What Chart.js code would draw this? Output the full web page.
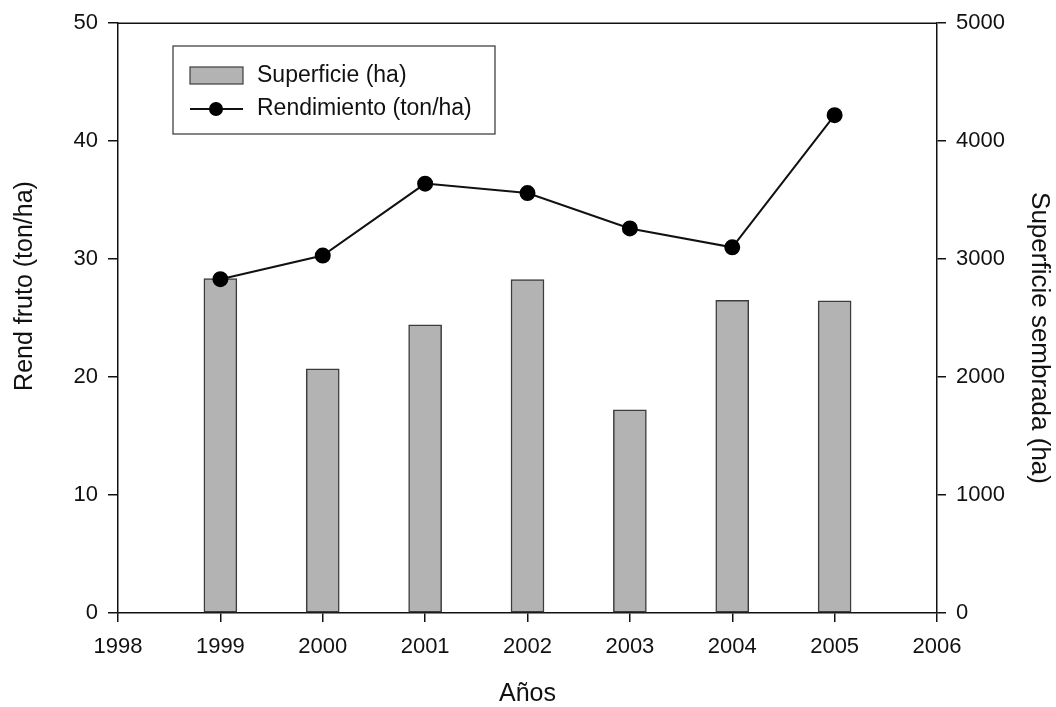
<!DOCTYPE html>
<html>
<head>
<meta charset="utf-8">
<script src="https://cdn.jsdelivr.net/npm/chart.js@4"></script>
<style>
  body { margin: 0; background: #fff; }
  #wrap { width: 1056px; height: 707px; }
</style>
</head>
<body>
<div id="wrap"><canvas id="myChart"></canvas></div>
<script>
// Datos
const years = [1999, 2000, 2001, 2002, 2003, 2004, 2005];
const superficie = [2835, 2069, 2442, 2827, 1723, 2651, 2646];
const rendimiento = [28.3, 30.3, 36.4, 35.6, 32.6, 31.0, 42.2];

const FONT = "'Liberation Sans', Arial, sans-serif";

// Leyenda dentro del area del grafico, con marco
const legendBox = {
    id: 'legendBox',
    afterDatasetsDraw(chart) {
        const c = chart.ctx;
        c.save();
        c.fillStyle = '#fff';
        c.strokeStyle = '#333';
        c.lineWidth = 1.2;
        c.fillRect(173, 46, 322, 88);
        c.strokeRect(173, 46, 322, 88);

        // barra
        c.fillStyle = '#b3b3b3';
        c.strokeStyle = '#3c3c3c';
        c.fillRect(190, 67, 53, 17);
        c.strokeRect(190, 67, 53, 17);

        // linea con punto
        c.strokeStyle = '#111';
        c.lineWidth = 2;
        c.beginPath();
        c.moveTo(190, 109);
        c.lineTo(243, 109);
        c.stroke();
        c.fillStyle = '#000';
        c.beginPath();
        c.arc(216, 109, 7, 0, Math.PI * 2);
        c.fill();

        c.font = '23px ' + FONT;
        c.fillStyle = '#111';
        c.textBaseline = 'middle';
        c.fillText('Superficie (ha)', 257, 76);
        c.fillText('Rendimiento (ton/ha)', 257, 109);
        c.restore();
    }
};

// Linea superior del marco y titulos de los ejes Y (no centrados en el original)
const frameAndTitles = {
    id: 'frameAndTitles',
    afterDraw(chart) {
        const a = chart.chartArea;
        const c = chart.ctx;
        c.save();
        c.strokeStyle = '#111';
        c.lineWidth = 1.5;
        c.beginPath();
        c.moveTo(a.left, a.top);
        c.lineTo(a.right, a.top);
        c.stroke();

        c.fillStyle = '#111';
        c.textAlign = 'center';
        c.textBaseline = 'middle';

        c.font = '25px ' + FONT;
        c.save();
        c.translate(25, 286);
        c.rotate(-Math.PI / 2);
        c.fillText('Rend fruto (ton/ha)', 0, 0);
        c.restore();

        c.font = '26px ' + FONT;
        c.save();
        c.translate(1039, 338);
        c.rotate(Math.PI / 2);
        c.fillText('Superficie sembrada (ha)', 0, 0);
        c.restore();

        c.restore();
    }
};

const tickFont = { family: FONT, size: 22 };
const titleFont = { family: FONT, size: 25, lineHeight: 1.2 };

let ctx = document.getElementById('myChart');

let myChart = new Chart(ctx, {
    type: 'bar',
    data: {
        datasets: [{
            type: 'line',
            label: 'Rendimiento (ton/ha)',
            data: years.map((y, i) => ({ x: y, y: rendimiento[i] })),
            yAxisID: 'y',
            borderColor: '#111',
            borderWidth: 2,
            pointRadius: 7,
            pointBackgroundColor: '#000',
            pointBorderColor: '#000',
            tension: 0,
            order: 0
        }, {
            type: 'bar',
            label: 'Superficie (ha)',
            data: years.map((y, i) => ({ x: y, y: superficie[i] })),
            yAxisID: 'y2',
            backgroundColor: '#b3b3b3',
            borderColor: '#3c3c3c',
            borderWidth: 1.5,
            borderSkipped: false,
            barThickness: 33,
            order: 1
        }]
    },
    options: {
        responsive: true,
        maintainAspectRatio: false,
        animation: false,
        layout: { padding: { top: 23, left: 0, right: 0, bottom: 0 } },
        plugins: {
            legend: { display: false },
            tooltip: { enabled: false }
        },
        scales: {
            x: {
                type: 'linear',
                min: 1998,
                max: 2006,
                offset: false,
                ticks: {
                    stepSize: 1,
                    color: '#111',
                    font: tickFont,
                    padding: 12,
                    callback: v => String(v)
                },
                grid: { offset: false, drawOnChartArea: false, tickLength: 9, color: '#111', lineWidth: 1.5 },
                border: { color: '#111', width: 1.5 },
                title: { display: true, text: 'Años', color: '#111', font: titleFont, padding: { top: 0, bottom: -2 } },
                afterFit(s) { s.height = 94; }
            },
            y: {
                position: 'left',
                min: 0,
                max: 50,
                ticks: { stepSize: 10, color: '#111', font: tickFont, padding: 10, callback: v => String(v) },
                grid: { drawOnChartArea: false, tickLength: 10, color: '#111', lineWidth: 1.5 },
                border: { color: '#111', width: 1.5 },
                afterFit(s) { s.width = 118; }
            },
            y2: {
                position: 'right',
                min: 0,
                max: 5000,
                ticks: { stepSize: 1000, color: '#111', font: tickFont, padding: 10, callback: v => String(v) },
                grid: { drawOnChartArea: false, tickLength: 9, color: '#111', lineWidth: 1.5 },
                border: { color: '#111', width: 1.5 },
                afterFit(s) { s.width = 119; }
            }
        }
    },
    plugins: [legendBox, frameAndTitles]
});
</script>
</body>
</html>
